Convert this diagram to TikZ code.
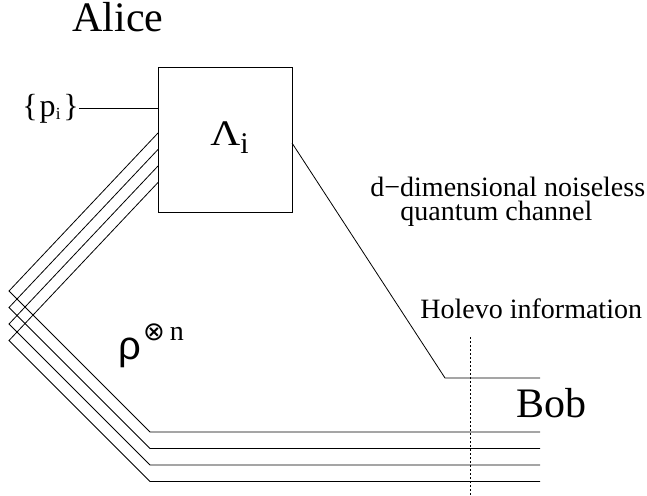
\documentclass[tikz,border=0pt]{standalone}
\usepackage{fontspec}
\setmainfont{Liberation Serif}
\newfontfamily\greeksans{Liberation Sans}
\newfontfamily\symbfont{DejaVu Sans}
\newcommand\fs[1]{\fontsize{#1}{#1}\selectfont}
\begin{document}
\begin{tikzpicture}[x=1pt,y=-1pt,line width=0.8pt,
  wire/.style={line width=0.8pt,line join=miter},
  lbl/.style={inner sep=0pt,anchor=base west}]
\useasboundingbox (0,0) rectangle (647,495);
% Alice and her encoding box
\node[lbl] (alice) at (72,32) {\fs{42}Alice};
\node[draw,line width=0.8pt,minimum width=134pt,minimum height=145pt,inner sep=0pt] (enc) at (225,139.5) {};
\node[lbl] (lam) at (210,145) {\fs{36}\scalebox{1.15}[1]{Λ}\raisebox{-8pt}{\fs{30}i}};
\node[lbl] (prob) at (22,116) {\fs{32}\{\hspace{2pt}p\raisebox{-3pt}{\fs{17}i}\hspace{3pt}\}};
\draw[wire] (prob.east) -- (prob.east -| enc.west);
% n copies of rho: up-left, then down-right to Bob
\foreach \i in {0,1,2,3}{
  \pgfmathsetmacro\ya{133+16.5*\i}
  \pgfmathsetmacro\yb{291+16.5*\i}
  \pgfmathsetmacro\yc{432+16.5*\i}
  \coordinate (in\i) at (158,\ya);
  \coordinate (turn\i) at (9,\yb);
  \coordinate (knee\i) at (150,\yc);
  \coordinate (out\i) at (540,\yc);
  \draw[wire] (in\i) -- (turn\i) -- (knee\i) -- (out\i);}
\node[lbl] (rho) at (118,359) {{\greeksans\fs{40}ρ}\hspace{2pt}\raisebox{19pt}{\symbfont\fs{26}⊗}\hspace{5pt}\raisebox{19pt}{\fs{28}n}};
% noiseless channel
\coordinate (chin) at (292,143);
\coordinate (chknee) at (445,378);
\coordinate (chout) at (540,378);
\draw[wire] (chin) -- (chknee) -- (chout);
\node[lbl,align=left,font=\fs{28}] (chan) at (370,220) {d−dimensional noiseless\\[-4pt]\hspace{30pt}quantum channel};
% Bob and the Holevo cut
\node[lbl] (bob) at (516,417) {\fs{42}Bob};
\node[lbl] (holevo) at (420,318) {\fs{28}Holevo information};
\coordinate (cuttop) at (470,337);
\coordinate (cutbot) at (470,495);
\draw[line width=0.8pt,dash pattern=on 2pt off 2pt] (cuttop) -- (cutbot);
\end{tikzpicture}
\end{document}
